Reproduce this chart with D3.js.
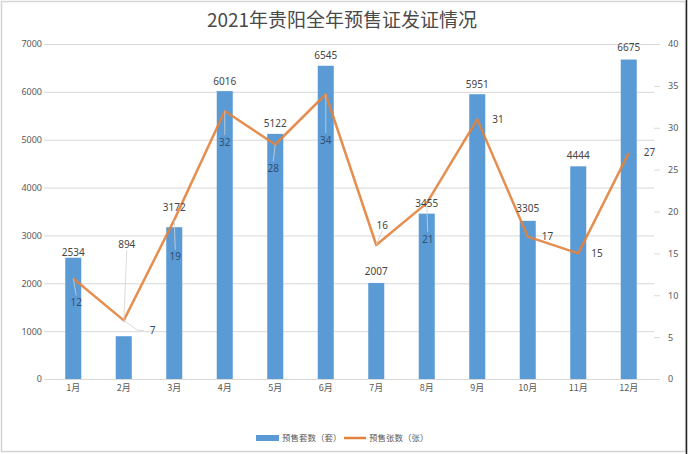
<!DOCTYPE html>
<html><head><meta charset="utf-8">
<script src="https://cdn.jsdelivr.net/npm/d3@7"></script>
<style>
html,body{margin:0;padding:0;background:#fff;}
svg{display:block;}
</style></head>
<body>
<svg id="chart" width="688" height="454"></svg>
<script>
const title = "2021年贵阳全年预售证发证情况";
const months = ["1月","2月","3月","4月","5月","6月","7月","8月","9月","10月","11月","12月"];
const units = [2534, 894, 3172, 6016, 5122, 6545, 2007, 3455, 5951, 3305, 4444, 6675];
const permits = [12, 7, 19, 32, 28, 34, 16, 21, 31, 17, 15, 27];
const leftTicks = [0,1000,2000,3000,4000,5000,6000,7000];
const rightTicks = [0,5,10,15,20,25,30,35,40];
const seriesNames = ["预售套数（套）", "预售张数（张）"];

// label layout (pixel offsets, not data)
const barLabelDy = [-5,-92,-20,-10,-10,-10,-11,-10,-10,-12,-11,-12];
const barLabelDx = [0,3,0,0,0,0,0,0,0,0,0,0];
const lineLabelOff = [[3,24],[26,10],[1,37],[0,31],[-2,24],[0,46],[6,-20],[1,36],[15,0],[14,0],[13,0],[15,0]];

const svg = d3.select("#chart");
const W = 688, H = 454;
const mTop = 44, mBottom = 379, mLeft = 48, mRight = 654;
const blue = "#5b9bd5", orange = "#e2823c";
const font = "'Noto Sans','Liberation Sans',Arial,sans-serif";

svg.append("rect").attr("x",1.5).attr("y",1.5).attr("width",W-4).attr("height",H-4)
  .attr("fill","#fff").attr("stroke","#d4d4d4").attr("stroke-width",1.5);
svg.append("line").attr("x1",686.5).attr("x2",686.5).attr("y1",0).attr("y2",H)
  .attr("stroke","#222").attr("stroke-width",1.5);

const x = d3.scaleBand().domain(months).range([mLeft,mRight]).paddingInner(0.683).paddingOuter(0.3415);
const yL = d3.scaleLinear().domain([0,7000]).range([mBottom,mTop]);
const yR = d3.scaleLinear().domain([0,40]).range([mBottom,mTop]);

// title
svg.append("text").attr("x",342).attr("y",27).attr("text-anchor","middle")
  .attr("font-family","'Noto Sans CJK SC',sans-serif").attr("font-size",19)
  .attr("fill","#4a4a4a").text(title);

// grid
svg.append("g").selectAll("line").data(leftTicks).join("line")
  .attr("x1",mLeft).attr("x2",mRight).attr("y1",d=>yL(d)+0.5).attr("y2",d=>yL(d)+0.5)
  .attr("stroke","#d9d9d9").attr("stroke-width",1);

// left axis
const gL = svg.append("g").attr("transform",`translate(${mLeft},0)`)
  .call(d3.axisLeft(yL).tickValues(leftTicks).tickSize(4).tickFormat(d3.format("d")));
gL.select(".domain").remove();
gL.selectAll(".tick line").attr("stroke","#d9d9d9");
gL.selectAll("text").attr("fill","#595959").attr("font-size",9).attr("font-family",font).attr("x",-6);

// right axis
const gR = svg.append("g").attr("transform",`translate(${mRight},0)`)
  .call(d3.axisRight(yR).tickValues(rightTicks).tickSize(6).tickFormat(d3.format("d")));
gR.select(".domain").remove();
gR.selectAll(".tick line").attr("stroke","#d9d9d9");
gR.selectAll("text").attr("fill","#595959").attr("font-size",9).attr("font-family",font).attr("x",14);

// bottom axis
const gB = svg.append("g").attr("transform",`translate(0,${mBottom})`)
  .call(d3.axisBottom(x).tickSize(0).tickPadding(6));
gB.select(".domain").attr("stroke","#d9d9d9");
gB.selectAll("text").attr("fill","#595959").attr("font-size",9).attr("font-family","'Noto Sans CJK SC',sans-serif");

// bars
svg.append("g").selectAll("rect").data(units).join("rect")
  .attr("x",(d,i)=>x(months[i])).attr("width",x.bandwidth())
  .attr("y",d=>yL(d)).attr("height",d=>mBottom-yL(d)).attr("fill",blue);

// line
const line = d3.line().x((d,i)=>x(months[i])+x.bandwidth()/2).y(d=>yR(d));
svg.append("path").datum(permits).attr("d",line).attr("fill","none")
  .attr("stroke",orange).attr("stroke-width",2.5).attr("stroke-linejoin","round").attr("opacity",0.9);

// leader lines for line labels
const lead = svg.append("g").attr("stroke","#d0d0d0").attr("stroke-width",0.8);
permits.forEach((v,i)=>{
  const cx = x(months[i])+x.bandwidth()/2, cy = yR(v);
  const [dx,dy] = lineLabelOff[i];
  if (Math.abs(dy) > 15) {
    lead.append("line").attr("x1",cx).attr("y1",cy)
      .attr("x2",cx+dx).attr("y2",cy+dy+(dy>0?-7:6));
  } else if (Math.abs(dx) > 20) {
    lead.append("polyline").attr("fill","none")
      .attr("points",`${cx},${cy} ${cx+dx-12},${cy+dy} ${cx+dx-6},${cy+dy}`);
  }
});
units.forEach((v,i)=>{
  if (barLabelDy[i] < -40) {
    const cx = x(months[i])+x.bandwidth()/2;
    lead.append("line").attr("x1",cx+barLabelDx[i]).attr("y1",yL(v)+barLabelDy[i]+6)
      .attr("x2",cx).attr("y2",yL(permits[i]*7000/40)+2);
  }
});

// bar labels
svg.append("g").selectAll("text").data(units).join("text")
  .attr("x",(d,i)=>x(months[i])+x.bandwidth()/2+barLabelDx[i])
  .attr("y",(d,i)=>yL(d)+barLabelDy[i]).attr("dy","0.35em")
  .attr("text-anchor","middle").attr("font-size",10).attr("font-family",font)
  .attr("fill","#454545").text(d=>d);

// line labels
svg.append("g").selectAll("text").data(permits).join("text")
  .attr("x",(d,i)=>x(months[i])+x.bandwidth()/2+lineLabelOff[i][0])
  .attr("y",(d,i)=>yR(d)+lineLabelOff[i][1]).attr("dy","0.35em")
  .attr("text-anchor",(d,i)=>lineLabelOff[i][0]>10?"start":"middle")
  .attr("font-size",10).attr("font-family",font)
  .attr("fill",(d,i)=>(lineLabelOff[i][0]>10 && i!==1)||i===6?"#454545":"#2f4f73").text(d=>d);

// legend
const lg = svg.append("g");
lg.append("rect").attr("x",256).attr("y",435).attr("width",23).attr("height",6).attr("fill",blue);
lg.append("text").attr("x",282).attr("y",438).attr("dy","0.35em").attr("font-size",8.5)
  .attr("font-family","'Noto Sans CJK SC',sans-serif").attr("fill","#595959").text(seriesNames[0]);
lg.append("line").attr("x1",344).attr("x2",366).attr("y1",438).attr("y2",438)
  .attr("stroke",orange).attr("stroke-width",2.5);
lg.append("text").attr("x",369).attr("y",438).attr("dy","0.35em").attr("font-size",8.5)
  .attr("font-family","'Noto Sans CJK SC',sans-serif").attr("fill","#595959").text(seriesNames[1]);
</script>
</body></html>
